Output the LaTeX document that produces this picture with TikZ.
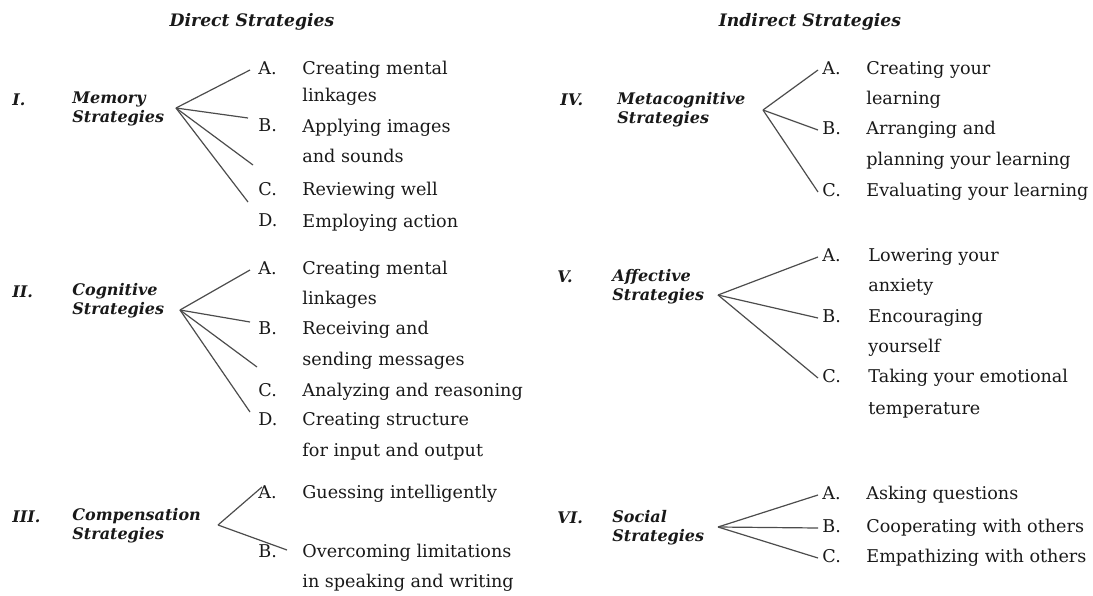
\documentclass[tikz,border=0pt]{standalone}
\usepackage{fontspec}
\setmainfont{DejaVu Serif}
\usepackage{tikz}
\tikzset{
  heading/.style={
    font=\fontsize{8.6}{10}\selectfont\bfseries\itshape,
    text=black!90,
    inner sep=0pt
  },
  numeral/.style={
    anchor=west,
    font=\fontsize{8}{9.5}\selectfont\bfseries\itshape,
    text=black!90,
    inner sep=0pt
  },
  group/.style={
    anchor=west,
    align=left,
    font=\fontsize{8}{9.5}\selectfont\bfseries\itshape,
    text=black!90,
    inner sep=0pt
  },
  itemletter/.style={
    anchor=west,
    font=\fontsize{8.8}{10}\selectfont,
    text=black!90,
    text height=6.5pt,
    text depth=2pt,
    inner xsep=2pt,
    inner ysep=0pt
  },
  itemtext/.style={
    anchor=west,
    font=\fontsize{8.8}{10}\selectfont,
    text=black!90,
    text height=6.5pt,
    text depth=2pt,
    inner sep=0pt
  },
  branch/.style={draw=black!70, line width=0.6pt}
}
\begin{document}
\begin{tikzpicture}[x=0.5pt, y=-0.5pt, every edge/.style={branch}]
  \useasboundingbox (0,0) rectangle (1093,595);
  % column titles
  \node (direct) [heading] at (252,22) {Direct Strategies};
  \node (indirect) [heading] at (810,22) {Indirect Strategies};

  % I. memory
  \node (memnum) [numeral] at (12,100) {I.};
  \node (mem) [group] at (72,109) {Memory\\Strategies};
  \coordinate (memhub) at (176,108);
  \coordinate (mem1) at (250,70);
  \coordinate (mem2) at (248,118);
  \coordinate (mem3) at (253,165);
  \coordinate (mem4) at (248,202);
  \node (memA) [itemletter] at (254,70) {A.};
  \node (memB) [itemletter] at (254,127) {B.};
  \node (memC) [itemletter] at (254,191) {C.};
  \node (memD) [itemletter] at (254,222) {D.};
  \node (memAt) [itemtext] at (302,70) {Creating mental};
  \node (memAu) [itemtext] at (302,97) {linkages};
  \node (memBt) [itemtext] at (302,128) {Applying images};
  \node (memBu) [itemtext] at (302,158) {and sounds};
  \node (memCt) [itemtext] at (302,191) {Reviewing well};
  \node (memDt) [itemtext] at (302,223) {Employing action};

  % II. cognitive
  \node (cognum) [numeral] at (12,292) {II.};
  \node (cog) [group] at (72,301) {Cognitive\\Strategies};
  \coordinate (coghub) at (180,310);
  \coordinate (cog1) at (250,270);
  \coordinate (cog2) at (250,322);
  \coordinate (cog3) at (257,367);
  \coordinate (cog4) at (250,412);
  \node (cogA) [itemletter] at (254,270) {A.};
  \node (cogB) [itemletter] at (254,330) {B.};
  \node (cogC) [itemletter] at (254,392) {C.};
  \node (cogD) [itemletter] at (254,421) {D.};
  \node (cogAt) [itemtext] at (302,270) {Creating mental};
  \node (cogAu) [itemtext] at (302,300) {linkages};
  \node (cogBt) [itemtext] at (302,330) {Receiving and};
  \node (cogBu) [itemtext] at (302,361) {sending messages};
  \node (cogCt) [itemtext] at (302,392) {Analyzing and reasoning};
  \node (cogDt) [itemtext] at (302,421) {Creating structure};
  \node (cogDu) [itemtext] at (302,452) {for input and output};

  % III. compensation
  \node (comnum) [numeral] at (12,517) {III.};
  \node (com) [group] at (72,526) {Compensation\\Strategies};
  \coordinate (comhub) at (218,525);
  \coordinate (com1) at (262,487);
  \coordinate (com2) at (287,550);
  \node (comA) [itemletter] at (254,494) {A.};
  \node (comB) [itemletter] at (254,553) {B.};
  \node (comAt) [itemtext] at (302,494) {Guessing intelligently};
  \node (comBt) [itemtext] at (302,553) {Overcoming limitations};
  \node (comBu) [itemtext] at (302,583) {in speaking and writing};

  % IV. metacognitive
  \node (metnum) [numeral] at (560,100) {IV.};
  \node (met) [group] at (617,110) {Metacognitive\\Strategies};
  \coordinate (methub) at (763,110);
  \node (metA) [itemletter] at (818,70) {A.};
  \node (metB) [itemletter] at (818,130) {B.};
  \node (metC) [itemletter] at (818,192) {C.};
  \node (metAt) [itemtext] at (866,70) {Creating your};
  \node (metAu) [itemtext] at (866,100) {learning};
  \node (metBt) [itemtext] at (866,130) {Arranging and};
  \node (metBu) [itemtext] at (866,161) {planning your learning};
  \node (metCt) [itemtext] at (866,192) {Evaluating your learning};

  % V. affective
  \node (affnum) [numeral] at (557,277) {V.};
  \node (aff) [group] at (612,287) {Affective\\Strategies};
  \coordinate (affhub) at (718,295);
  \node (affA) [itemletter] at (818,257) {A.};
  \node (affB) [itemletter] at (818,318) {B.};
  \node (affC) [itemletter] at (818,378) {C.};
  \node (affAt) [itemtext] at (868,257) {Lowering your};
  \node (affAu) [itemtext] at (868,287) {anxiety};
  \node (affBt) [itemtext] at (868,318) {Encouraging};
  \node (affBu) [itemtext] at (868,348) {yourself};
  \node (affCt) [itemtext] at (868,378) {Taking your emotional};
  \node (affCu) [itemtext] at (868,410) {temperature};

  % VI. social
  \node (socnum) [numeral] at (557,518) {VI.};
  \node (soc) [group] at (612,528) {Social\\Strategies};
  \coordinate (sochub) at (718,527);
  \node (socA) [itemletter] at (818,495) {A.};
  \node (socB) [itemletter] at (818,528) {B.};
  \node (socC) [itemletter] at (818,558) {C.};
  \node (socAt) [itemtext] at (866,495) {Asking questions};
  \node (socBt) [itemtext] at (866,528) {Cooperating with others};
  \node (socCt) [itemtext] at (866,558) {Empathizing with others};

  \path
  (memhub) edge (mem1)
  (memhub) edge (mem2)
  (memhub) edge (mem3)
  (memhub) edge (mem4)
  (coghub) edge (cog1)
  (coghub) edge (cog2)
  (coghub) edge (cog3)
  (coghub) edge (cog4)
  (comhub) edge (com1)
  (comhub) edge (com2)
  (methub) edge (metA.west)
  (methub) edge (metB.west)
  (methub) edge (metC.west)
  (affhub) edge (affA.west)
  (affhub) edge (affB.west)
  (affhub) edge (affC.west)
  (sochub) edge (socA.west)
  (sochub) edge (socB.west)
  (sochub) edge (socC.west)
  ;
\end{tikzpicture}
\end{document}
